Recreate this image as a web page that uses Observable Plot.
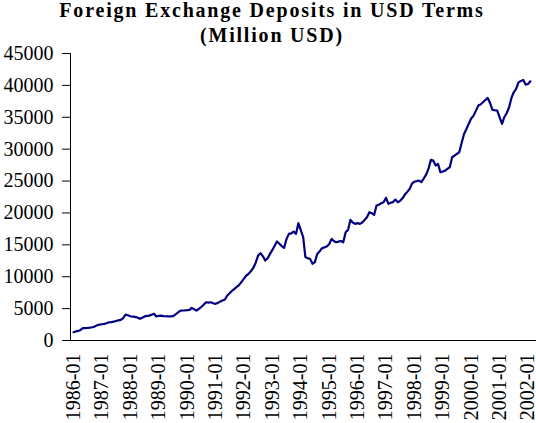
<!DOCTYPE html>
<html><head><meta charset="utf-8">
<script src="https://cdn.jsdelivr.net/npm/d3@7"></script>
<script src="https://cdn.jsdelivr.net/npm/@observablehq/plot@0.6"></script>
<style>
body{margin:0;background:#fff;}
#wrap{position:relative;width:536px;height:423px;}
#title{position:absolute;top:-2px;left:4px;width:536px;text-align:center;font-family:'Liberation Serif','Times New Roman',serif;font-weight:bold;font-size:20px;letter-spacing:1.8px;line-height:25px;color:#000;z-index:2;}
#chart svg text{font-family:'Liberation Serif','Times New Roman',serif !important;}
</style></head>
<body>
<div id="wrap"><div id="title">Foreign Exchange Deposits in USD Terms<br>(Million USD)</div><div id="chart"></div></div>
<script>
const titleText = "Foreign Exchange Deposits in USD Terms (Million USD)";
const yTicks = [0,5000,10000,15000,20000,25000,30000,35000,40000,45000];
const tickYears = [1986,1987,1988,1989,1990,1991,1992,1993,1994,1995,1996,1997,1998,1999,2000,2001,2002];
// monthly values, 1986-01 .. 2002-02 (million USD)
const deposits = [
 1300,1420,1500,1650,1930,1950,1980,2020,2080,2200,2380,2500,
 2550,2600,2700,2850,2870,2950,3050,3150,3240,3500,4075,3950,
 3800,3750,3700,3600,3400,3550,3750,3870,3900,4050,4180,3760,
 3870,3900,3820,3800,3780,3780,3800,4050,4350,4650,4700,4720,
 4750,4800,5120,4900,4700,4950,5250,5600,6000,5950,6000,5850,
 5750,5900,6100,6270,6430,7050,7400,7800,8100,8400,8730,9200,
 9700,10190,10450,10900,11400,12200,13320,13680,13200,12540,12900,13580,
 14200,14900,15520,15160,14800,14530,15900,16720,16800,17080,16720,18390,
 17300,16200,13100,12900,12800,12020,12280,13580,14000,14470,14600,14730,
 15100,15930,15600,15400,15500,15600,15400,16970,17340,18910,18500,18290,
 18400,18290,18500,18910,19330,20110,19960,19700,21160,21300,21520,21680,
 22370,21420,21600,21700,22100,21680,21900,22300,22880,23300,23780,24600,
 24900,25000,25080,24820,25400,26000,26900,28320,28210,27430,27690,26380,
 26500,26640,26900,27160,28730,29000,29260,29520,31000,32390,33170,34000,
 34800,35260,36000,36830,37000,37350,37700,38030,37190,36150,36100,36050,
 35000,33960,35000,35630,36500,38000,38920,39440,40480,40700,40850,40120,
 40220,40640
];
const months = d3.utcMonth.range(new Date(Date.UTC(1986,0,1)), new Date(Date.UTC(2002,2,1)));
const data = deposits.map((v,i)=>({date: months[i], value: v}));
const xTicks = tickYears.map(y=>new Date(Date.UTC(y,0,1)));
const xStart = new Date(Date.UTC(1985,10,23)), xEnd = new Date(Date.UTC(2002,3,20));
const font = "'Liberation Serif','Times New Roman',serif";
const chart = Plot.plot({
  width:536, height:423,
  marginLeft:70, marginRight:0, marginTop:53, marginBottom:83,
  style:{fontFamily:font, fontSize:"20px", color:"#000", background:"#fff", overflow:"visible"},
  x:{type:"utc", domain:[xStart,xEnd]},
  y:{domain:[0,45000]},
  marks:[
    Plot.axisY({ticks:yTicks, tickSize:8, tickPadding:9, tickFormat:d3.format("d"), label:null, fontSize:20, fontFamily:font}),
    Plot.axisX({ticks:xTicks, tickSize:0, tickPadding:13, tickRotate:-90, tickFormat:d3.utcFormat("%Y-%m"), label:null, fontSize:20, fontFamily:font}),
    Plot.ruleX([xStart], {stroke:"#000", strokeWidth:1}),
    Plot.ruleY([0], {stroke:"#000", strokeWidth:1}),
    Plot.lineY(data, {x:"date", y:"value", stroke:"#000080", strokeWidth:2.2})
  ]
});
document.getElementById("chart").appendChild(chart);
</script>
</body></html>
